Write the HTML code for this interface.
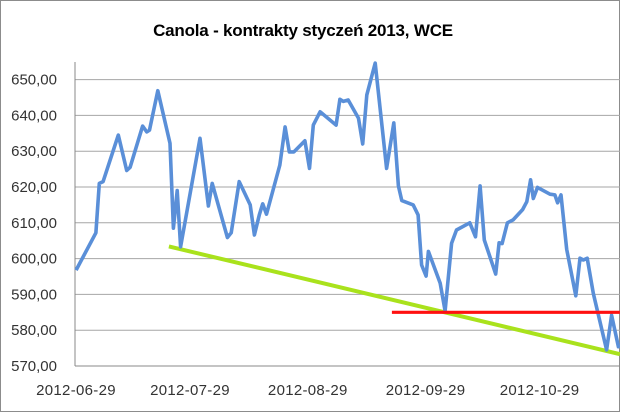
<!DOCTYPE html>
<html><head><meta charset="utf-8"><style>
html,body{margin:0;padding:0;background:#fff}
svg{display:block}
text{font-family:"Liberation Sans",sans-serif}
</style></head><body>
<svg id="chart" width="620" height="413" viewBox="0 0 620 413" xmlns="http://www.w3.org/2000/svg">
<rect x="0.5" y="0.5" width="619" height="411" fill="#fff" stroke="#8c8c8c"/>
<text x="303" y="36" text-anchor="middle" font-size="17" font-weight="bold" letter-spacing="-0.2" fill="#000">Canola - kontrakty styczeń 2013, WCE</text>
<g id="grid"></g><g id="yl"></g><g id="xl"></g><g id="series"></g>
</svg>
<script>
const yTicks=[570,580,590,600,610,620,630,640,650];
const yTickLabels=["570,00","580,00","590,00","600,00","610,00","620,00","630,00","640,00","650,00"];
const xTickDays=[0,30,61,92,122];
const xTickLabels=["2012-06-29","2012-07-29","2012-08-29","2012-09-29","2012-10-29"];
const priceDays=[0.3,5.5,6.4,7.4,11.4,13.6,14.5,17.8,18.9,19.6,21.8,25,25.9,26.9,27.8,32.9,35.1,36.1,40.1,41.1,43.2,46.1,47.2,48.5,49.4,50.4,53.9,55.3,56.4,57.6,60.5,61.7,62.7,64.5,68.7,69.7,70.6,71.9,74.6,75.7,76.8,79,82,83.9,85.1,86,89,90.3,91.2,92.4,93,96.1,97.4,99.1,100.4,103.9,105.4,106.6,107.7,110.7,111.6,112.4,113.8,115.3,117.8,118.9,119.9,120.6,121.7,125,126.3,127,127.9,129.4,131.8,132.9,133.8,134.8,136.4,139.9,141.2,143,143.4];
const priceValues=[596.8,607.2,621,621.5,634.5,624.6,625.5,637,635.4,635.9,646.9,632.2,608.5,619,603.3,633.6,614.7,621,605.9,607.2,621.5,615,606.6,612.2,615.3,612.4,626.1,636.8,629.8,629.8,632.9,625.2,637.3,641,637.3,644.5,643.9,644.3,639.2,632,645.7,654.6,625.2,637.9,620.3,616.2,615,612.2,598.2,595.1,602,593.1,585.4,604.3,608,610,606.1,620.3,605.2,595.7,604.4,604.2,610,610.8,613.7,615.9,622,616.8,619.9,618,617.8,615.6,617.8,602.6,589.6,600.1,599.6,600.1,590.3,574.5,584.2,575.4,576];
const trendDays=[24.7,143.4];
const trendValues=[603.4,573.3];
const supportDays=[83.4,143.4];
const supportValues=[585,585];

const X0=75,X1=620,PXD=3.8,Y0=366,PXV=3.58;
const x=d=>X0+d*PXD, y=v=>Y0-(v-570)*PXV;
const NS="http://www.w3.org/2000/svg";
function mk(tag,parent,attrs){const e=document.createElementNS(NS,tag);for(const k in attrs)e.setAttribute(k,attrs[k]);document.getElementById(parent).appendChild(e);return e;}
yTicks.forEach((v,i)=>{
 const g=mk('line','grid',{x1:X0,x2:X1,y1:y(v),y2:y(v),stroke:i==0?'#888':'#a6a6a6','stroke-width':1});
 
 
 const t=mk('text','yl',{x:57,y:y(v)+5,'text-anchor':'end','font-size':15,fill:'#333'});
 t.textContent=yTickLabels[i];
 
 
});
const ax=mk('line','grid',{x1:X0,x2:X0,y1:62,y2:Y0,stroke:'#888','stroke-width':1});


xTickDays.forEach((d,i)=>{
 const t=mk('text','xl',{x:x(d)+1,y:395,'text-anchor':'middle','font-size':15,'letter-spacing':0.3,fill:'#333'});
 t.textContent=xTickLabels[i];
 
 
});
const pts=(ds,vs)=>ds.map((d,i)=>x(d).toFixed(1)+','+y(vs[i]).toFixed(1)).join(' ');
const tl=mk('polyline','series',{points:pts(trendDays,trendValues),fill:'none',stroke:'#a9e21c','stroke-width':4});


const pl=mk('polyline','series',{points:pts(priceDays,priceValues),fill:'none',stroke:'#5a8fd8','stroke-width':3.6,'stroke-linejoin':'round'});


const rl=mk('polyline','series',{points:pts(supportDays,supportValues),fill:'none',stroke:'#ff1010','stroke-width':3.2});


</script>
</body></html>
